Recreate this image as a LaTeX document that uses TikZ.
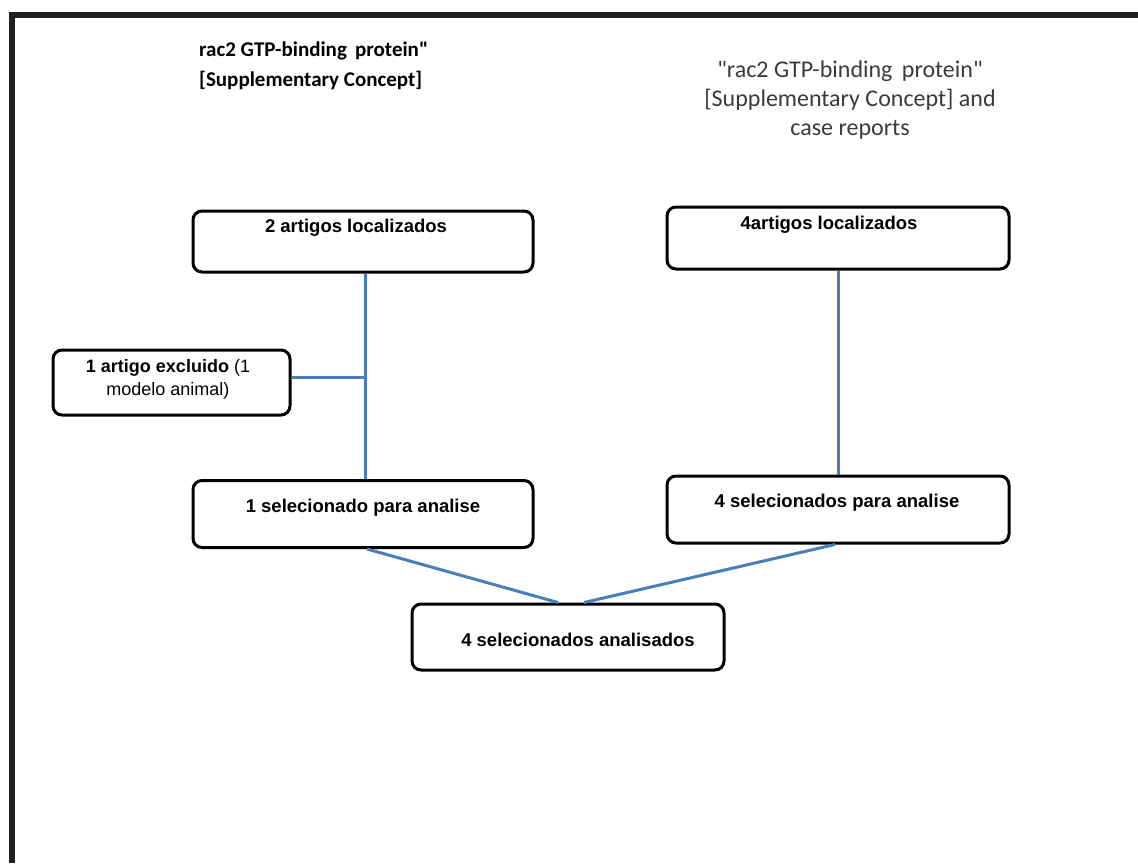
\documentclass[tikz,border=0pt]{standalone}
\usepackage{fontspec}
\setmainfont{Liberation Sans}
\newfontfamily\titlefont{Carlito}
\begin{document}
\begin{tikzpicture}[x=1pt,y=-1pt,
  box/.style={draw=black,line width=3pt,rounded corners=9pt,fill=white,inner sep=0pt},
  boxtext/.style={font=\fontsize{18.5}{22}\selectfont\bfseries,inner sep=0pt},
  link/.style={draw=linkblue,line width=3pt},
  frameline/.style={draw=framegray,line width=6pt}]
\definecolor{linkblue}{HTML}{4A7EBB}
\definecolor{framegray}{HTML}{231F20}
\definecolor{titlegray}{HTML}{3A3A3A}
\useasboundingbox (0,0) rectangle (1138,863);

% page frame (top and left edges)
\draw[frameline] (9,15) -- (1138,15);
\draw[frameline] (12,12) -- (12,863);

% column titles
\node[font=\titlefont\bfseries\fontsize{21}{30}\selectfont,align=left,anchor=west,inner sep=0pt]
  (titleL) at (199,66) {rac2 GTP-binding\, protein"\\{}[Supplementary Concept]};
\node[font=\titlefont\fontsize{24}{29}\selectfont,text=titlegray,align=center,inner sep=0pt]
  (titleR) at (850,100) {"rac2 GTP-binding\, protein"\\{}[Supplementary Concept] and\\ case reports};

% boxes
\node[box,minimum width=340pt,minimum height=61pt] (locL) at (363,241.5) {};
\node[box,minimum width=342pt,minimum height=62pt] (locR) at (838,238) {};
\node[box,minimum width=237pt,minimum height=65pt] (excl) at (171.5,382.5) {};
\node[box,minimum width=340pt,minimum height=67pt] (selL) at (363,514) {};
\node[box,minimum width=342pt,minimum height=67pt] (selR) at (838,509.5) {};
\node[box,minimum width=312pt,minimum height=66pt] (final) at (568,637) {};

% box texts
\node[boxtext] (tlocL) at (356,228) {2 artigos localizados};
\node[boxtext] (tlocR) at (829,225) {4artigos localizados};
\node[boxtext,font=\fontsize{18}{23}\selectfont,align=center] (texcl) at (168,379)
  {\textbf{1 artigo excluido} (1\\ modelo animal)};
\node[boxtext] (tselL) at (363,508) {1 selecionado para analise};
\node[boxtext] (tselR) at (837,503) {4 selecionados para analise};
\node[boxtext] (tfinal) at (578,640) {4 selecionados analisados};

% connector anchor columns
\coordinate (joinL) at (365,377);
\coordinate (colR) at (838,0);
\coordinate (outL) at (367,0);
\coordinate (outR) at (835,0);
\coordinate (inL) at (558,0);
\coordinate (inR) at (584,0);

% connectors
\draw[link] (locL.south -| joinL) -- (selL.north -| joinL);
\draw[link] (excl.east |- joinL) -- (joinL);
\draw[link] (locR.south -| colR) -- (selR.north -| colR);
\draw[link] (selL.south -| outL) -- (final.north -| inL);
\draw[link] (selR.south -| outR) -- (final.north -| inR);
\end{tikzpicture}
\end{document}
